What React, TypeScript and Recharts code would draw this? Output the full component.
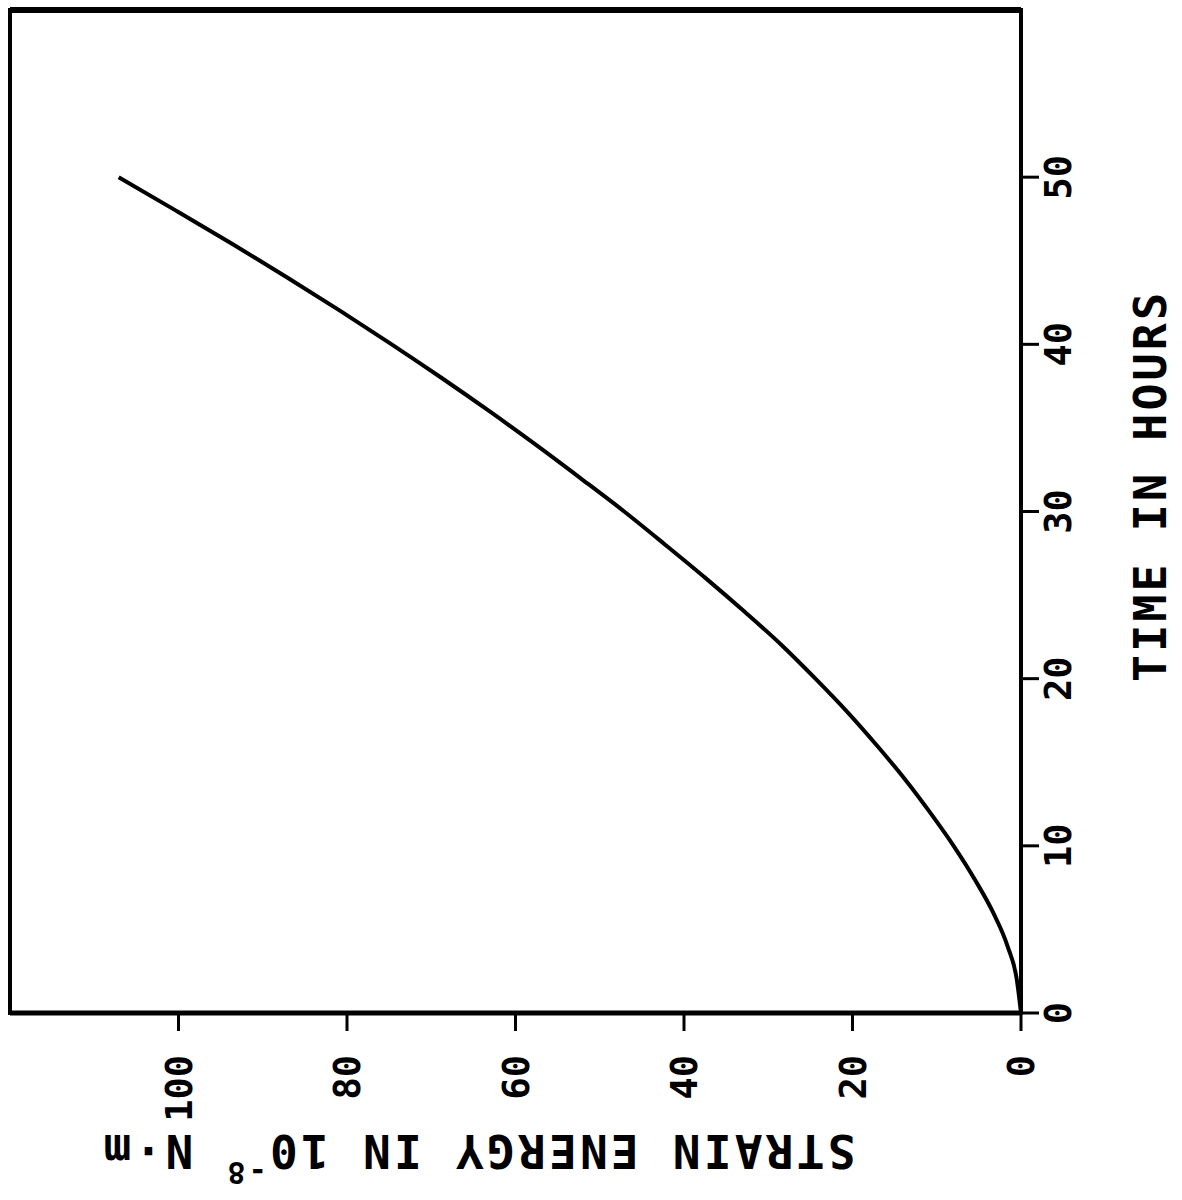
import React from 'react';
import { LineChart, Line, XAxis, YAxis, ReferenceArea, ReferenceLine, Label } from 'recharts';

const timeHours = [0, 2, 4, 6, 8, 10, 12, 14, 16, 18, 20, 22, 24, 26, 28, 30, 32, 34, 36, 38, 40, 42, 44, 46, 48, 50];
const strainEnergy = [0, 0.5, 1.6, 3.3, 5.5, 8.0, 10.8, 13.8, 17.1, 20.6, 24.4, 28.4, 32.8, 37.4, 42.2, 47.1, 52.3, 57.6, 63.1, 68.8, 74.7, 80.8, 87.1, 93.6, 100.3, 107.1];
const energyTicks = [0, 20, 40, 60, 80, 100];
const timeTicks = [0, 10, 20, 30, 40, 50];

const data = timeHours.map((t, i) => ({ time: t, energy: strainEnergy[i] }));

const FONT = '"DejaVu Sans Mono", "Liberation Mono", monospace';

function BottomTick(props: any) {
  const { x, y, payload } = props;
  return (
    <text
      transform={`translate(${x},${y}) rotate(-90)`}
      textAnchor="end"
      dy="0.36em"
      fontFamily={FONT}
      fontWeight="bold"
      fontSize={37}
      fill="#000"
    >
      {payload.value}
    </text>
  );
}

function RightTick(props: any) {
  const { x, y, payload } = props;
  return (
    <text
      transform={`translate(${x},${y}) rotate(-90)`}
      textAnchor="middle"
      dy="0.36em"
      fontFamily={FONT}
      fontWeight="bold"
      fontSize={37}
      fill="#000"
    >
      {payload.value}
    </text>
  );
}

function EnergyTitle(props: any) {
  const { viewBox } = props;
  const cx = viewBox.x + viewBox.width / 2 - 36;
  const cy = viewBox.y + 139;
  return (
    <text
      transform={`translate(${cx},${cy}) rotate(180)`}
      textAnchor="middle"
      dy="0.36em"
      fontFamily={FONT}
      fontWeight="bold"
      fontSize={46}
      fill="#000"
      textLength={752}
      lengthAdjust="spacing"
    >
      STRAIN ENERGY IN  10
      <tspan fontSize={30} dy="-0.9em">-8</tspan>
      <tspan dy="0.6em"> N·m</tspan>
    </text>
  );
}

function TimeTitle(props: any) {
  const { viewBox } = props;
  const cx = viewBox.x + 129;
  const cy = viewBox.y + viewBox.height / 2 - 24;
  return (
    <text
      transform={`translate(${cx},${cy}) rotate(-90)`}
      textAnchor="middle"
      dy="0.36em"
      fontFamily={FONT}
      fontWeight="bold"
      fontSize={45}
      fill="#000"
      textLength={389}
      lengthAdjust="spacing"
    >
      TIME IN HOURS
    </text>
  );
}

export default function App() {
  return (
    <div style={{ position: 'absolute', left: 0, top: 0, background: '#fff' }}>
      <LineChart width={1182} height={1200} data={data} margin={{ top: 10, right: 11, bottom: 7, left: 10 }}>
        <XAxis
          type="number"
          dataKey="energy"
          domain={[0, 120]}
          reversed
          ticks={energyTicks}
          interval={0}
          height={180}
          tickSize={18}
          tickMargin={24}
          axisLine={{ stroke: '#000', strokeWidth: 5 }}
          tickLine={{ stroke: '#000', strokeWidth: 3 }}
          tick={<BottomTick />}
        >
          <Label content={<EnergyTitle />} />
        </XAxis>
        <YAxis
          type="number"
          orientation="right"
          domain={[0, 60]}
          ticks={timeTicks}
          interval={0}
          width={150}
          tickSize={18}
          tickMargin={19}
          axisLine={{ stroke: '#000', strokeWidth: 4 }}
          tickLine={{ stroke: '#000', strokeWidth: 3 }}
          tick={<RightTick />}
        >
          <Label content={<TimeTitle />} />
        </YAxis>
        <ReferenceArea x1={0} x2={120} y1={0} y2={60} fill="none" stroke="#000" strokeWidth={4} />
        <ReferenceLine y={60} stroke="#000" strokeWidth={6} />
        <Line
          type="monotone"
          dataKey="time"
          stroke="#000"
          strokeWidth={4}
          dot={false}
          isAnimationActive={false}
        />
      </LineChart>
    </div>
  );
}
